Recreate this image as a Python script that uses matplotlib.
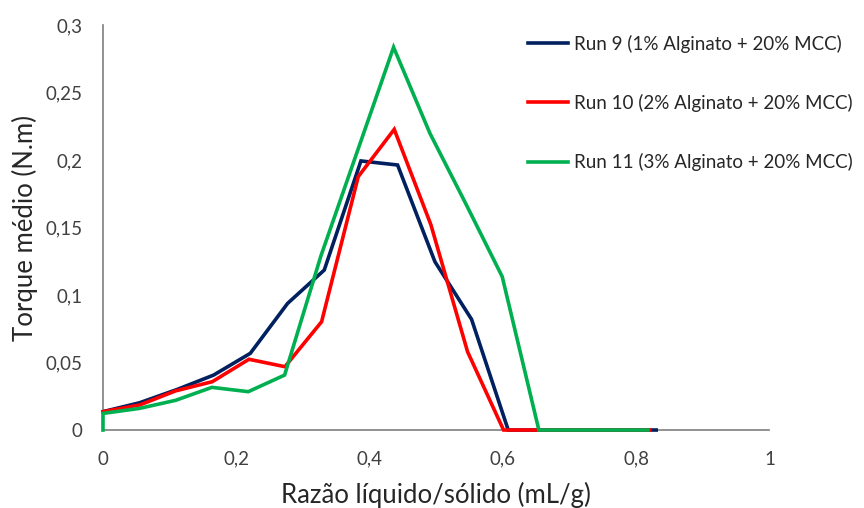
import matplotlib
matplotlib.use("Agg")
import matplotlib.pyplot as plt
from matplotlib.ticker import FuncFormatter

# Torque vs liquid/solid ratio for three alginate formulations
run9_x = [0, 0.055, 0.111, 0.166, 0.221, 0.277, 0.332, 0.387, 0.442, 0.498, 0.553, 0.608, 0.664, 0.719, 0.774, 0.830]
run9_y = [0.0136, 0.0202, 0.030, 0.0407, 0.0568, 0.0938, 0.1185, 0.1993, 0.1963, 0.1247, 0.082, 0, 0, 0, 0, 0]

run10_x = [0, 0.0547, 0.109, 0.164, 0.219, 0.273, 0.328, 0.383, 0.437, 0.492, 0.547, 0.601, 0.656, 0.711, 0.766, 0.820]
run10_y = [0.0136, 0.0185, 0.029, 0.0358, 0.0524, 0.0469, 0.0802, 0.1877, 0.2227, 0.152, 0.058, 0, 0, 0, 0, 0]

run11_x = [0, 0, 0.0545, 0.109, 0.1635, 0.218, 0.2725, 0.327, 0.436, 0.4905, 0.545, 0.599, 0.654, 0.708, 0.763, 0.8175]
run11_y = [0, 0.0123, 0.016, 0.022, 0.0316, 0.0284, 0.0407, 0.129, 0.2835, 0.2198, 0.167, 0.1136, 0, 0, 0, 0]

labels = ["Run 9 (1% Alginato + 20% MCC)",
          "Run 10 (2% Alginato + 20% MCC)",
          "Run 11 (3% Alginato + 20% MCC)"]
colors = ["#002060", "#FF0000", "#00B050"]

x_ticks = [0, 0.2, 0.4, 0.6, 0.8, 1]
y_ticks = [0, 0.05, 0.1, 0.15, 0.2, 0.25, 0.3]

plt.rcParams["font.family"] = ["Lato", "DejaVu Sans"]

fig = plt.figure(figsize=(8.64, 5.08), dpi=100)
ax = fig.add_axes([0.1192, 0.1535, 0.7714, 0.7973])

series = [(run9_x, run9_y), (run10_x, run10_y), (run11_x, run11_y)]
handles = []
for (xs, ys), c, lab in zip(series, colors, labels):
    h, = ax.plot(xs, ys, color=c, lw=2.6, label=lab, solid_joinstyle="miter", clip_on=False, zorder=3)
    handles.append(h)

ax.set_xlim(0, 1)
ax.set_ylim(0, 0.3)
ax.set_xticks(x_ticks)
ax.set_yticks(y_ticks)

def comma(v, pos):
    s = ("%.2f" % v).rstrip("0").rstrip(".")
    return s.replace(".", ",")

ax.xaxis.set_major_formatter(FuncFormatter(comma))
ax.yaxis.set_major_formatter(FuncFormatter(comma))
ax.tick_params(length=0, labelsize=13.5, colors="#404040")
ax.tick_params(axis="x", pad=15)
ax.tick_params(axis="y", pad=15)

for s in ["top", "right"]:
    ax.spines[s].set_visible(False)
for s in ["left", "bottom"]:
    ax.spines[s].set_color("#7f7f7f")
    ax.spines[s].set_linewidth(1.2)
    ax.spines[s].set_zorder(2)

ax.set_xlabel("Razão líquido/sólido (mL/g)", fontsize=18.5, color="#262626", labelpad=10)
ax.set_ylabel("Torque médio (N.m)", fontsize=18.5, color="#262626", labelpad=5)

fig.legend(handles, labels, loc="upper left", bbox_to_anchor=(0.592, 0.965),
           frameon=False, fontsize=13.5, labelspacing=2.2, handlelength=2.1,
           handletextpad=0.35, labelcolor="#262626")

fig.savefig("out.png", dpi=100)
